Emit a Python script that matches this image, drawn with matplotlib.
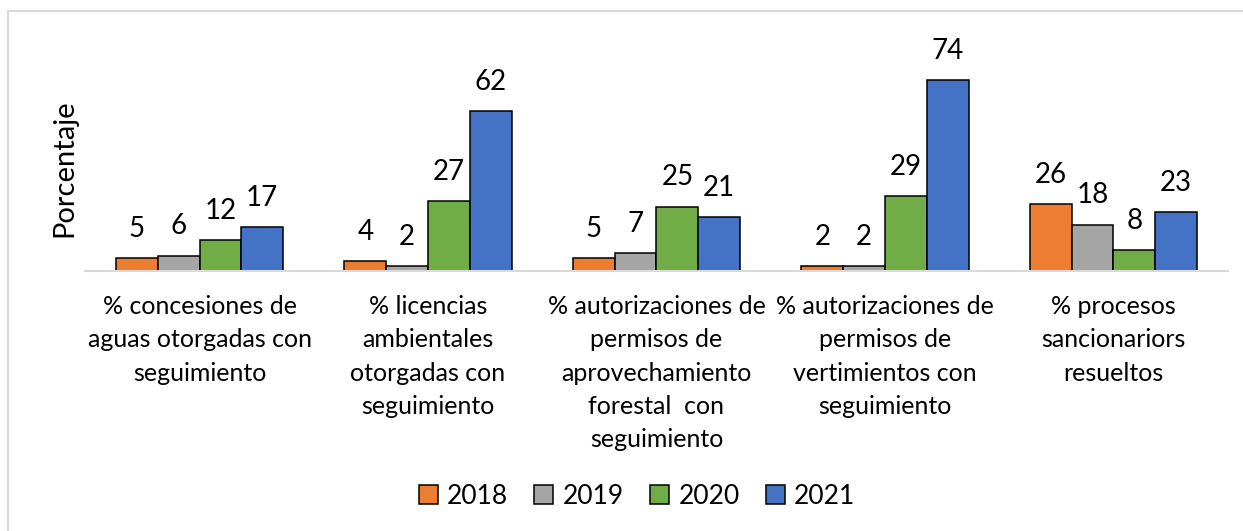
import numpy as np
import matplotlib.pyplot as plt
from matplotlib.patches import Rectangle

categorias = [
    "% concesiones de\naguas otorgadas con\nseguimiento",
    "% licencias\nambientales\notorgadas con\nseguimiento",
    "% autorizaciones de\npermisos de\naprovechamiento\nforestal  con\nseguimiento",
    "% autorizaciones de\npermisos de\nvertimientos con\nseguimiento",
    "% procesos\nsancionariors\nresueltos",
]
anios = ["2018", "2019", "2020", "2021"]
v2018 = [5, 4, 5, 2, 26]
v2019 = [6, 2, 7, 2, 18]
v2020 = [12, 27, 25, 29, 8]
v2021 = [17, 62, 21, 74, 23]
series = [v2018, v2019, v2020, v2021]
colores = ["#ED7D31", "#A5A5A5", "#70AD47", "#4472C4"]

plt.rcParams['font.family'] = ['Lato', 'DejaVu Sans']

fig = plt.figure(figsize=(12.43, 5.31), dpi=100)
ax = fig.add_axes([0.0686, 0.4896, 0.9191, 0.388])

# marco gris del área del gráfico
fig.patches.append(Rectangle((8 / 1243, -0.1), 1.2, 1 - 11 / 531 + 0.1,
                             transform=fig.transFigure, fill=False,
                             edgecolor="#D9D9D9", linewidth=1.5))

x = np.arange(len(categorias))
ancho = 0.183
for i, (vals, col, anio) in enumerate(zip(series, colores, anios)):
    pos = x + (i - 1.5) * ancho
    ax.bar(pos, vals, ancho, color=col, edgecolor="black",
           linewidth=1.1, label=anio)
    for xb, v in zip(pos, vals):
        ax.annotate(str(v), (xb, v), xytext=(0, 21), textcoords="offset points",
                    ha="center", va="center", fontsize=20, annotation_clip=False)

ax.set_xlim(-0.5, 4.5)
ax.set_ylim(0, 80)
ax.set_yticks([])
ax.set_xticks(x, categorias, fontsize=18, linespacing=1.55)
ax.tick_params(axis="x", length=0, pad=17)
for s in ["top", "right", "left"]:
    ax.spines[s].set_visible(False)
ax.spines["bottom"].set_color("#D9D9D9")
ax.spines["bottom"].set_linewidth(1.5)
ax.set_ylabel("Porcentaje", fontsize=21, labelpad=6)

fig.legend(loc="center", bbox_to_anchor=(637 / 1243, 1 - 496 / 531), ncol=4,
           frameon=False, fontsize=19, handlelength=0.72, handleheight=0.72,
           handletextpad=0.35, columnspacing=1.0)

fig.savefig("out.png", dpi=100)
